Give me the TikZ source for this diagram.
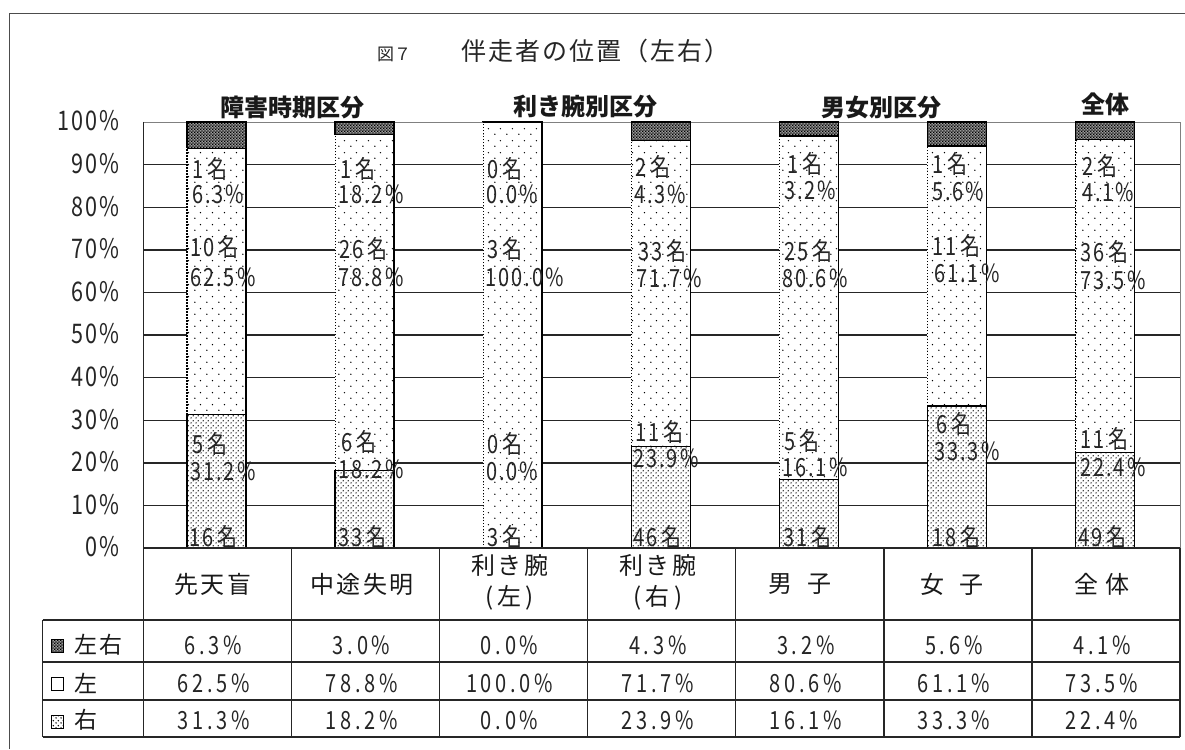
\documentclass[tikz,border=0pt]{standalone}
\usepackage{fontspec}
\usetikzlibrary{patterns.meta}
\newfontfamily\jp{Noto Sans CJK JP}
\newfontfamily\jpls{Noto Sans CJK JP}[LetterSpace=10]
\newfontfamily\jpt{Noto Sans CJK JP}[LetterSpace=8]
\newfontfamily\nfls{Noto Sans CJK JP}[FakeStretch=0.8,LetterSpace=8]
\newfontfamily\nfwide{Noto Sans CJK JP}[FakeStretch=0.8,LetterSpace=15]
\tikzdeclarepattern{
  name=sparsedots, type=uncolored,
  bottom left={(0pt,0pt)}, top right={(12pt,12pt)}, tile size={(12pt,12pt)},
  code={\fill (3pt,3pt) circle (0.8pt); \fill (9pt,9pt) circle (0.8pt);}
}
\tikzdeclarepattern{
  name=densedots, type=uncolored,
  bottom left={(0pt,0pt)}, top right={(5pt,5pt)}, tile size={(5pt,5pt)},
  code={\fill (1.25pt,1.25pt) circle (0.85pt); \fill (3.75pt,3.75pt) circle (0.85pt);}
}
\tikzdeclarepattern{
  name=checker, type=uncolored,
  bottom left={(0pt,0pt)}, top right={(3.2pt,3.2pt)}, tile size={(3.2pt,3.2pt)},
  code={\fill (0pt,0pt) rectangle (1.6pt,1.6pt); \fill (1.6pt,1.6pt) rectangle (3.2pt,3.2pt);}
}
\begin{document}
\begin{tikzpicture}[x=1pt,y=-1pt,
  frame/.style={line width=1.6pt,draw=black!70},
  grid/.style={line width=1.4pt,draw=black!85},
  tabline/.style={line width=1.4pt,draw=black!85},
  barline/.style={line width=1.3pt,draw=black},
  dotline/.style={line width=1.1pt,draw=black,dash pattern=on 1.2pt off 1.8pt},
  lab/.style={anchor=west,inner sep=0pt,text=black!85,font={\nfls\fontsize{25}{25}\selectfont}},
  ylab/.style={anchor=east,inner sep=0pt,text=black!85,font={\nfls\fontsize{27}{27}\selectfont}},
  val/.style={inner sep=0pt,text=black!85,font={\nfwide\fontsize{25}{25}\selectfont}},
  hdr/.style={inner sep=0pt,text=black!90,align=center,font={\jpls\fontsize{24}{31}\selectfont}},
  rowlab/.style={anchor=west,inner sep=0pt,text=black!90,font={\jpls\fontsize{23}{23}\selectfont}},
  grp/.style={inner sep=0pt,text=black!90,font={\jp\bfseries\fontsize{24}{24}\selectfont}},
  checkfill/.style={fill=black!40,postaction={pattern=checker,pattern color=black}},
  densefill/.style={fill=white,postaction={pattern=densedots,pattern color=black}},
  sparsefill/.style={fill=white,postaction={pattern=sparsedots,pattern color=black}},
]
\useasboundingbox (0,0) rectangle (1185,749);
\fill[white] (0,0) rectangle (1185,749);
% outer frame
\draw[frame] (9.5,749) -- (9.5,13.5) -- (1185,13.5);
% title
\node[anchor=west,inner sep=0pt,text=black!85,font={\jp\fontsize{17}{17}\selectfont}] (fignum) at (377,54) {図７};
\node[anchor=west,inner sep=0pt,text=black!85,font={\jpt\fontsize{25}{25}\selectfont}] (title) at (461,51) {伴走者の位置（左右）};
% group labels
\node[grp] (g1) at (292,107) {障害時期区分};
\node[grp] (g2) at (585,107) {利き腕別区分};
\node[grp] (g3) at (881,107) {男女別区分};
\node[grp] (g4) at (1105,104) {全体};
% plot area border and gridlines
\draw[black!50,line width=0.9pt] (143.5,122) -- (1180,122) -- (1180,548);
\foreach \v in {1,...,9} \draw[grid] (143.5,{548-42.6*\v}) -- (1180,{548-42.6*\v});
% y labels
\foreach \v/\t in {0/0\%,1/10\%,2/20\%,3/30\%,4/40\%,5/50\%,6/60\%,7/70\%,8/80\%,9/90\%,10/100\%}
  \node[ylab] (y\v) at (120,{547-42.6*\v}) {\t};
% bars: index / right% / left%
\foreach \i/\r/\l in {1/31.3/62.5,2/18.2/78.8,3/0/100,4/23.9/71.7,5/16.1/80.6,6/33.3/61.1,7/22.4/73.5}{
  \pgfmathsetmacro\cx{216.5+148.07*(\i-1)}
  \pgfmathsetmacro\xl{\cx-29.5}
  \pgfmathsetmacro\xr{\cx+29.5}
  \pgfmathsetmacro\ya{548-4.26*\r}
  \pgfmathsetmacro\yb{\ya-4.26*\l}
  \path[densefill] (\xl,548) rectangle (\xr,\ya);
  \path[sparsefill] (\xl,\ya) rectangle (\xr,\yb);
  \path[checkfill] (\xl,\yb) rectangle (\xr,122);
  \draw[barline] (\xl,548) -- (\xl,\ya);
  \draw[dotline] (\xl,\ya) -- (\xl,\yb);
  \draw[barline] (\xl,\yb) -- (\xl,122) -- (\xr,122) -- (\xr,548);
  \draw[barline] (\xl,\ya) -- (\xr,\ya);
  \draw[barline] (\xl,\yb) -- (\xr,\yb);
}
% bar labels
\node[lab] (b1a) at (192,169) {1\,名};
\node[lab] (b1b) at (192,194) {6.3\%};
\node[lab] (b1c) at (190,247) {10\,名};
\node[lab] (b1d) at (190,277) {62.5\%};
\node[lab] (b1e) at (192,444) {5\,名};
\node[lab] (b1f) at (190,471) {31.2\%};
\node[lab] (b1g) at (189,537) {16\,名};
\node[lab] (b2a) at (340,169) {1\,名};
\node[lab] (b2b) at (338,194) {18.2\%};
\node[lab] (b2c) at (339,249) {26\,名};
\node[lab] (b2d) at (338,277) {78.8\%};
\node[lab] (b2e) at (341,442) {6\,名};
\node[lab] (b2f) at (338,469) {18.2\%};
\node[lab] (b2g) at (338,537) {33\,名};
\node[lab] (b3a) at (487,169) {0\,名};
\node[lab] (b3b) at (486,194) {0.0\%};
\node[lab] (b3c) at (487,249) {3\,名};
\node[lab] (b3d) at (485,277) {100.0\%};
\node[lab] (b3e) at (487,444) {0\,名};
\node[lab] (b3f) at (486,471) {0.0\%};
\node[lab] (b3g) at (487,537) {3\,名};
\node[lab] (b4a) at (635,167) {2\,名};
\node[lab] (b4b) at (634,194) {4.3\%};
\node[lab] (b4c) at (638,251) {33\,名};
\node[lab] (b4d) at (636,278) {71.7\%};
\node[lab] (b4e) at (635,432) {11\,名};
\node[lab] (b4f) at (633,458) {23.9\%};
\node[lab] (b4g) at (633,537) {46\,名};
\node[lab] (b5a) at (787,164) {1\,名};
\node[lab] (b5b) at (784,190) {3.2\%};
\node[lab] (b5c) at (784,251) {25\,名};
\node[lab] (b5d) at (782,278) {80.6\%};
\node[lab] (b5e) at (784,441) {5\,名};
\node[lab] (b5f) at (782,467) {16.1\%};
\node[lab] (b5g) at (783,537) {31\,名};
\node[lab] (b6a) at (932,164) {1\,名};
\node[lab] (b6b) at (932,191) {5.6\%};
\node[lab] (b6c) at (932,246) {11\,名};
\node[lab] (b6d) at (934,273) {61.1\%};
\node[lab] (b6e) at (936,424) {6\,名};
\node[lab] (b6f) at (934,451) {33.3\%};
\node[lab] (b6g) at (932,537) {18\,名};
\node[lab] (b7a) at (1082,166) {2\,名};
\node[lab] (b7b) at (1082,192) {4.1\%};
\node[lab] (b7c) at (1080,252) {36\,名};
\node[lab] (b7d) at (1080,280) {73.5\%};
\node[lab] (b7e) at (1080,439) {11\,名};
\node[lab] (b7f) at (1080,467) {22.4\%};
\node[lab] (b7g) at (1078,537) {49\,名};
% table lines
\draw[tabline] (143.5,122) -- (143.5,548);
\draw[tabline] (143.5,548) -- (1180,548);
\foreach \yy in {620,662,700,737} \draw[tabline] (42.5,\yy) -- (1180,\yy);
\draw[tabline] (42.5,620) -- (42.5,737);
\foreach \k in {0,...,7} \draw[tabline] ({143.5+148.07*\k},548) -- ({143.5+148.07*\k},737);
% header row
\node[hdr] (h1) at (213,584) {先天盲};
\node[hdr] (h2) at (362,584) {中途失明};
\node[hdr] (h3) at (510,582) {利き腕\\(\,左\,)};
\node[hdr] (h4) at (658,582) {利き腕\\(\,右\,)};
\node[hdr] (h5) at (800,584) {男\hspace{0.6em}子};
\node[hdr] (h6) at (952,584) {女\hspace{0.6em}子};
\node[hdr] (h7) at (1102,584) {全\hspace{0.3em}体};
% row labels with legend boxes
\draw[line width=1pt,checkfill] (51.5,639) rectangle (63.5,652);
\draw[line width=1pt,fill=white] (51.5,677) rectangle (63.5,690);
\draw[line width=1pt,densefill] (51.5,715) rectangle (63.5,728);
\node[rowlab] (r1) at (74,645) {左右};
\node[rowlab] (r2) at (74,683) {左};
\node[rowlab] (r3) at (74,720) {右};
% values
\foreach \k/\a/\b/\c in {0/6.3/62.5/31.3,1/3.0/78.8/18.2,2/0.0/100.0/0.0,3/4.3/71.7/23.9,4/3.2/80.6/16.1,5/5.6/61.1/33.3,6/4.1/73.5/22.4}{
  \node[val] (va\k) at ({213.5+148.07*\k},645) {\a\%};
  \node[val] (vb\k) at ({213.5+148.07*\k},683) {\b\%};
  \node[val] (vc\k) at ({213.5+148.07*\k},720) {\c\%};
}
\end{tikzpicture}
\end{document}
